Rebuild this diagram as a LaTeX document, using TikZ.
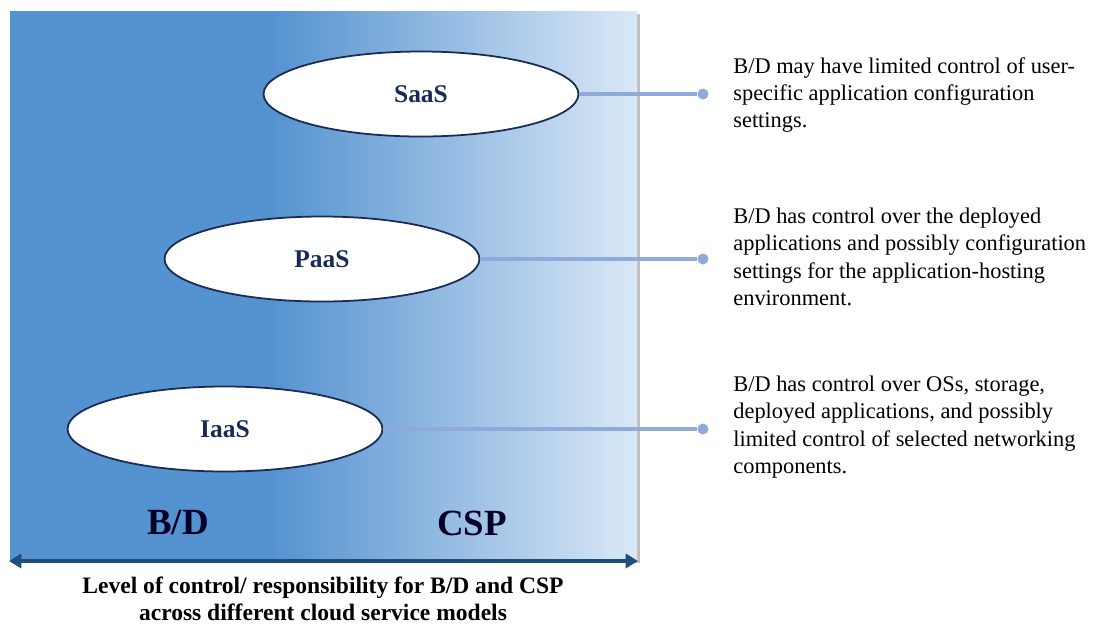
\documentclass[tikz,border=0pt]{standalone}
\usepackage{fontspec}
\setmainfont{Liberation Serif}
\usepackage{xcolor}
\usetikzlibrary{shapes, arrows.meta, positioning, calc}

\definecolor{bdblue}{HTML}{5492D0}
\definecolor{csplight}{HTML}{DAE8F6}
\definecolor{linkblue}{HTML}{8FA9DA}
\definecolor{arrowblue}{HTML}{1F4E79}
\definecolor{rimnavy}{HTML}{1A2A55}

\begin{document}
\begin{tikzpicture}[x=0.02cm, y=-0.02cm,
    model/.style={draw=rimnavy, line width=1pt, fill=white, ellipse, minimum width=6.3cm, minimum height=1.7cm, font=\fontsize{14.5}{16}\selectfont\bfseries, text=rimnavy},
    dot/.style={circle, fill=linkblue, inner sep=0pt, minimum size=0.22cm},
    link/.style={draw=linkblue, line width=2pt},
    note/.style={anchor=west, inner sep=0pt, align=left, font=\fontsize{12.75}{15.6}\selectfont}]
      \useasboundingbox (0,0) rectangle (1117,627);

      % background panel
      \fill[black!25] (13,14) rectangle (640,563);
      \fill[bdblue] (10,11) rectangle (270,560);
      \shade[left color=bdblue, right color=csplight] (270,11) rectangle (637,560);

      \node[model] at (421,94) (SaaS) {SaaS};
      \node[model] at (322,259) (PaaS) {PaaS};
      \node[model] at (225,429) (IaaS) {IaaS};

      \node[dot] at (703,94) (dS) {};
      \node[dot] at (703,259) (dP) {};
      \node[dot] at (703,429) (dI) {};

      \draw[link] (SaaS.east) -- (dS);
      \draw[link] (PaaS.east) -- (dP);
      \draw[link] (IaaS.east) -- (dI);

      \node[note] at (733,95) (tS) {B/D may have limited control of user-\\specific application configuration\\settings.};
      \node[note] at (733,257) (tP) {B/D has control over the deployed\\applications and possibly configuration\\settings for the application-hosting\\environment.};
      \node[note] at (733,427) (tI) {B/D has control over OSs, storage,\\deployed applications, and possibly\\limited control of selected networking\\components.};

      \node[font=\fontsize{21}{24}\selectfont\bfseries, text=black!85!blue] at (178,523) (BD) {B/D};
      \node[font=\fontsize{21}{24}\selectfont\bfseries, text=black!85!blue] at (472,523) (CSP) {CSP};

      \coordinate (L) at (9,561);
      \coordinate (R) at (638,561);
      \draw[arrowblue, line width=1.8pt, {Triangle[length=7pt,width=8pt]}-{Triangle[length=7pt,width=8pt]}] (L) -- (R);

      \node[align=center, font=\fontsize{13.4}{15.6}\selectfont\bfseries] at (323,599) (cap) {Level of control/ responsibility for B/D and CSP\\across different cloud service models};
    \end{tikzpicture}
\end{document}
